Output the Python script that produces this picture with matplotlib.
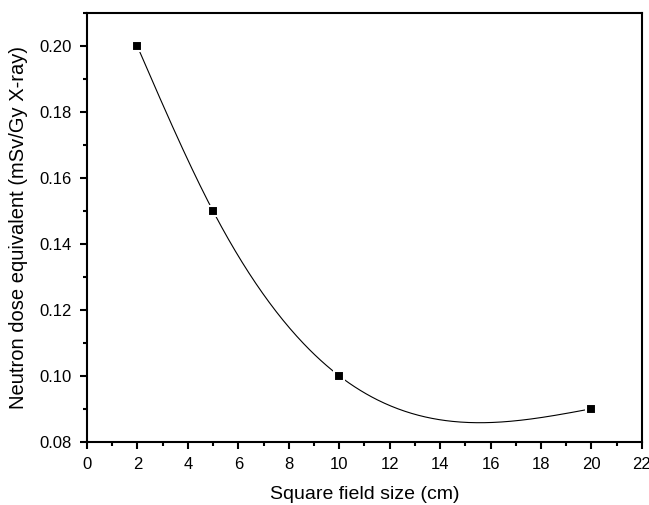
import numpy as np
import matplotlib
matplotlib.use("Agg")
import matplotlib.pyplot as plt
from matplotlib.ticker import MultipleLocator

field_size = [2, 5, 10, 20]
dose = [0.20, 0.15, 0.10, 0.09]

def natural_spline(x, y, xs):
    x = np.asarray(x, float); y = np.asarray(y, float)
    n = len(x)
    h = np.diff(x)
    A = np.zeros((n, n)); b = np.zeros(n)
    A[0, 0] = 1; A[-1, -1] = 1
    for i in range(1, n - 1):
        A[i, i - 1] = h[i - 1]
        A[i, i] = 2 * (h[i - 1] + h[i])
        A[i, i + 1] = h[i]
        b[i] = 3 * ((y[i + 1] - y[i]) / h[i] - (y[i] - y[i - 1]) / h[i - 1])
    c = np.linalg.solve(A, b)
    out = np.empty_like(xs)
    for k, xv in enumerate(xs):
        i = min(np.searchsorted(x, xv, side="right") - 1, n - 2)
        i = max(i, 0)
        dx = xv - x[i]
        bb = (y[i + 1] - y[i]) / h[i] - h[i] * (2 * c[i] + c[i + 1]) / 3
        d = (c[i + 1] - c[i]) / (3 * h[i])
        out[k] = y[i] + bb * dx + c[i] * dx ** 2 + d * dx ** 3
    return out

plt.rcParams['font.family'] = ['Liberation Sans', 'DejaVu Sans']

fig = plt.figure(figsize=(6.49, 5.05), dpi=100)
ax = fig.add_axes([0.134, 0.1253, 0.855, 0.848])

xs = np.linspace(field_size[0], field_size[-1], 400)
ax.plot(xs, natural_spline(field_size, dose, xs), color='black', lw=0.8, zorder=2)
ax.plot(field_size, dose, 's', color='black', markersize=7,
        markeredgecolor='white', markeredgewidth=1.5, zorder=3, clip_on=False)

ax.set_xlim(0, 22)
ax.set_ylim(0.08, 0.21)
ax.xaxis.set_major_locator(MultipleLocator(2))
ax.xaxis.set_minor_locator(MultipleLocator(1))
ax.yaxis.set_major_locator(MultipleLocator(0.02))
ax.yaxis.set_minor_locator(MultipleLocator(0.01))
ax.yaxis.set_major_formatter(matplotlib.ticker.FormatStrFormatter('%.2f'))
ax.tick_params(which='major', direction='out', length=5, width=1.5, labelsize=12,
               pad=6, top=False, right=False)
ax.tick_params(which='minor', direction='out', length=3, width=1.5, top=False, right=False)
for s in ax.spines.values():
    s.set_linewidth(1.5)
ax.set_xlabel('Square field size (cm)', fontsize=14, labelpad=10)
ax.set_ylabel('Neutron dose equivalent (mSv/Gy X-ray)', fontsize=14.5, labelpad=8)

fig.savefig('out.png', dpi=100)
